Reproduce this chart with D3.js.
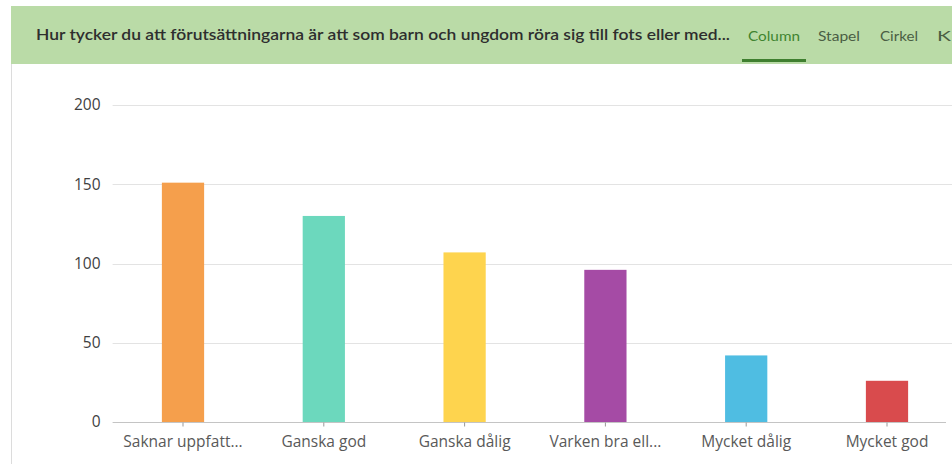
<!DOCTYPE html>
<html>
<head>
<meta charset="utf-8">
<script src="https://cdn.jsdelivr.net/npm/d3@7"></script>
<style>
  body { margin: 0; background: #fff; }
  svg { display: block; font-family: Lato, "Open Sans", sans-serif; }
</style>
</head>
<body>
<svg id="chart"></svg>
<script>
const title = 'Hur tycker du att förutsättningarna är att som barn och ungdom röra sig till fots eller med...';
const tabs = ['Column', 'Stapel', 'Cirkel', 'K'];
const categories = ['Saknar uppfatt...', 'Ganska god', 'Ganska dålig', 'Varken bra ell...', 'Mycket dålig', 'Mycket god'];
const values = [151, 130, 107, 96, 42, 26];
const colors = ['#f59f4c', '#6cd8bd', '#fed44e', '#a54ba5', '#4fbde2', '#d94b4d'];
const yTicks = [0, 50, 100, 150, 200];

const width = 952, height = 464;
const margin = { top: 105, left: 112.6, bottom: 42 };

const svg = d3.select('#chart')
    .attr('width', width)
    .attr('height', height);

//header band
svg.append('rect')
    .attr('x', 11).attr('y', 6)
    .attr('width', width - 11).attr('height', 58)
    .attr('fill', '#badba7');
svg.append('line')
    .attr('x1', 11.5).attr('x2', 11.5)
    .attr('y1', 64).attr('y2', height)
    .attr('stroke', '#dcdcdc');

svg.append('text')
    .attr('x', 36).attr('y', 40)
    .attr('textLength', 694)
    .attr('lengthAdjust', 'spacingAndGlyphs')
    .style('font-size', '15px')
    .style('font-weight', 600)
    .style('fill', '#2e2e2e')
    .text(title);

const tabX = [748, 818, 880, 937];
const tabW = [52, 42, 38, 14];
tabs.forEach((t, i) => {
    svg.append('text')
        .attr('x', tabX[i]).attr('y', 41)
        .attr('textLength', tabW[i])
        .attr('lengthAdjust', 'spacingAndGlyphs')
        .style('font-size', '13.5px')
        .style('font-weight', 400)
        .style('fill', i === 0 ? '#3f8430' : '#4a5e44')
        .text(t);
});
svg.append('rect')
    .attr('x', 742).attr('y', 59)
    .attr('width', 64).attr('height', 3)
    .attr('fill', '#3f7f2f');

//scales
const x = d3.scaleBand()
    .domain(categories)
    .range([margin.left, margin.left + 6 * 140.8])
    .paddingInner(0.7)
    .paddingOuter(0.35);
const y = d3.scaleLinear().domain([0, 200]).range([422, 105]);

//grid
svg.append('g')
    .selectAll('line')
    .data(yTicks.filter(d => d > 0))
    .enter()
    .append('line')
    .attr('x1', margin.left).attr('x2', width)
    .attr('y1', d => Math.round(y(d)) + 0.5)
    .attr('y2', d => Math.round(y(d)) + 0.5)
    .attr('stroke', '#e3e3e3');

const yAxis = d3.axisLeft(y).tickValues(yTicks).tickSize(0).tickPadding(12);
svg.append('g')
    .attr('transform', `translate(${margin.left},0)`)
    .call(yAxis)
    .call(g => g.select('.domain').remove())
    .call(g => g.selectAll('text')
        .style('font-size', '15.5px')
        .style('fill', '#3f3f3f')
        .style('font-family', '"Open Sans", sans-serif'));

//bars
svg.append('g')
    .selectAll('rect')
    .data(values)
    .enter()
    .append('rect')
    .attr('x', (d, i) => x(categories[i]))
    .attr('y', d => y(d))
    .attr('width', x.bandwidth())
    .attr('height', d => y(0) - y(d))
    .attr('fill', (d, i) => colors[i]);

const xAxis = d3.axisBottom(x).tickSize(4).tickPadding(9).tickSizeOuter(0);
svg.append('g')
    .attr('transform', `translate(0,${Math.round(y(0)) + 0.5})`)
    .call(xAxis)
    .call(g => g.select('.domain').attr('stroke', '#c4c4c4').attr('d', `M${margin.left},0H946`))
    .call(g => g.selectAll('.tick line').attr('stroke', '#999'))
    .call(g => g.selectAll('text')
        .style('font-size', '15.5px')
        .style('fill', '#595959')
        .style('font-family', '"Open Sans", sans-serif'));
</script>
</body>
</html>
